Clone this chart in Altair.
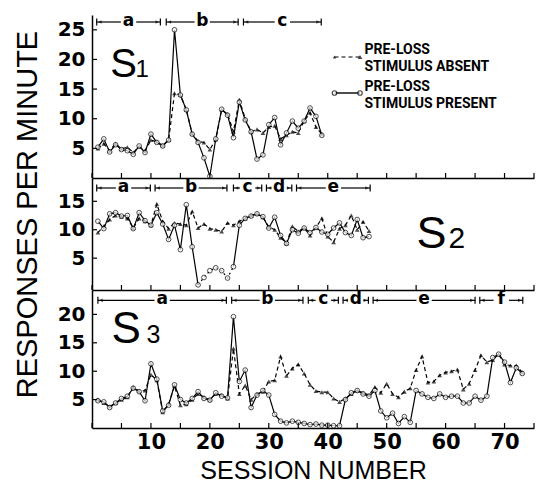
import altair as alt
import pandas as pd

# ---------------- data ----------------
X_TICKS = list(range(0, 76, 5))
X_LABELS = [10, 20, 30, 40, 50, 60, 70]

S1_Y_TICKS = [5, 10, 15, 20, 25]
S2_Y_TICKS = [5, 10, 15]
S3_Y_TICKS = [5, 10, 15, 20]

S1_ABSENT = [5.0, 5.8, 4.6, 5.8, 4.9, 5.2, 4.3, 5.3, 4.6, 6.4, 6.1, 5.5, 6.4, 14.3, 14.0,
             11.5, 7.5, 6.2, 6.0, 4.8, 6.5, 11.5, 10.8, 7.8, 13.2, 10.0, 7.8, 8.2, 7.6, 8.6,
             8.8, 6.6, 7.2, 7.8, 7.6, 9.6, 11.0, 8.6, 7.4]
S1_PRESENT = [5.2, 6.6, 4.4, 5.6, 4.8, 4.6, 4.0, 5.4, 4.3, 7.4, 6.0, 5.4, 6.4, 25.0, 14.0,
              11.5, 7.4, 6.0, 3.4, 0.3, 6.6, 11.6, 10.6, 6.8, 12.8, 9.8, 7.8, 3.2, 3.9, 9.0,
              10.2, 5.6, 7.6, 9.6, 8.4, 9.6, 11.8, 10.4, 7.2]

S2_ABSENT = [9.5, 10.6, 11.8, 12.5, 12.3, 12.0, 10.3, 12.0, 11.5, 10.8, 14.5, 11.5, 10.2, 11.2,
             11.0, 10.8, 13.2, 10.3, 11.0, 10.2, 10.0, 9.7, 11.2, 10.8, 11.5, 12.0, 12.5, 12.8,
             12.2, 10.5, 10.0, 8.6, 7.6, 10.6, 9.7, 10.3, 9.0, 10.4, 12.0, 8.8, 7.8, 10.2, 10.8,
             12.5, 10.0, 11.4, 9.8]
S2_PRESENT = [11.5, 10.2, 12.8, 13.0, 12.4, 12.5, 10.2, 13.0, 11.6, 10.8, 13.0, 11.0, 8.3, 10.8,
              6.5, 14.4, 7.0, 0.3, 1.6, 2.8, 3.3, 2.8, 1.5, 3.5, 10.8, 12.0, 12.4, 12.8, 12.3,
              10.3, 12.2, 9.0, 7.6, 10.0, 9.4, 10.3, 9.5, 10.4, 9.6, 9.2, 10.3, 11.2, 9.5, 9.0,
              11.8, 8.6, 8.8]
S2_PRESENT_DASHED = (18, 24)   # sessions joined by a dotted line in the original

S3_ABSENT = [5.0, 4.4, 3.8, 4.4, 5.0, 5.4, 7.2, 6.5, 6.6, 9.4, 8.4, 2.8, 4.2, 7.4, 4.0, 4.2,
             5.0, 6.0, 5.4, 5.0, 6.0, 5.8, 5.2, 14.0, 6.0, 7.5, 5.0, 6.0, 6.4, 8.2, 8.4, 12.6,
             9.2, 10.5, 11.2, 9.6, 7.6, 6.5, 6.3, 6.3, 5.2, 4.6, 5.2, 6.0, 6.6, 6.2, 5.8, 7.2,
             6.2, 7.8, 6.0, 5.4, 6.4, 7.0, 10.2, 12.6, 8.0, 8.2, 9.3, 9.8, 10.0, 10.3, 6.8, 7.8,
             10.2, 12.8, 11.6, 12.0, 13.0, 11.2, 11.0, 11.0, 9.8]
S3_PRESENT = [4.8, 4.6, 3.6, 4.4, 5.2, 5.6, 7.0, 6.4, 4.8, 11.3, 8.6, 3.0, 4.0, 7.6, 5.0, 4.4,
              5.2, 6.4, 5.2, 4.9, 6.2, 5.6, 5.3, 19.6, 8.2, 10.2, 3.6, 5.8, 6.6, 5.8, 2.4, 1.2,
              0.9, 1.2, 1.0, 0.8, 0.6, 0.7, 0.5, 0.5, 0.4, 0.4, 5.0, 6.2, 6.6, 6.0, 5.6, 6.6,
              3.0, 1.8, 2.6, 0.8, 2.0, 1.0, 6.6, 6.0, 5.4, 5.2, 6.0, 5.4, 5.6, 5.6, 4.4, 4.4,
              5.6, 4.9, 5.6, 12.4, 13.0, 11.6, 8.0, 10.6, 9.6]

S1_PHASES = ["a", "b", "c"]
S1_PHASE_START = [0.8, 12.6, 25.7]
S1_PHASE_END = [11.6, 24.8, 38.9]
S2_PHASES = ["a", "b", "c", "d", "e"]
S2_PHASE_START = [0.8, 10.7, 24.0, 29.6, 34.7]
S2_PHASE_END = [9.9, 22.9, 28.8, 33.9, 47.2]
S3_PHASES = ["a", "b", "c", "d", "e", "f"]
S3_PHASE_START = [1.0, 23.7, 36.7, 42.6, 47.7, 65.8]
S3_PHASE_END = [22.8, 35.8, 41.8, 46.9, 65.0, 73.1]

# ---------------- layout ----------------
W = 442
XS = alt.Scale(domain=[0, 75], nice=False, zero=False)
LABEL_FONT = "DejaVu Sans"


def series_df(vals):
    return pd.DataFrame({"x": list(range(1, len(vals) + 1)), "y": vals})


def txt(label, x, y, size, font="Liberation Sans", weight="normal", align="left", baseline="alphabetic"):
    return alt.Chart(pd.DataFrame({"t": [label]})).mark_text(
        font=font, fontSize=size, fontWeight=weight, align=align, baseline=baseline, color="black"
    ).encode(text="t:N", x=alt.value(x), y=alt.value(y))


def panel(absent, present, h, ydom, yticks, letters, starts, ends, by,
          s_sub, s_pos, s_sizes, bottom=False, legend=False, dashed=None):
    ys = alt.Scale(domain=ydom, nice=False, zero=False)
    if bottom:
        xaxis = alt.Axis(values=X_LABELS, ticks=False, grid=False, labelFont=LABEL_FONT,
                         labelFontSize=21, labelFontWeight="bold", labelPadding=3,
                         labelColor="black", title="SESSION NUMBER", titleFont="Liberation Sans",
                         titleFontSize=25, titleFontWeight="normal", titlePadding=6,
                         titleColor="black", domainColor="black", domainWidth=1.5)
    else:
        xaxis = alt.Axis(values=X_TICKS, ticks=False, labels=False, grid=False, title=None,
                         domainColor="black", domainWidth=1.5)
    yaxis = alt.Axis(values=yticks, ticks=False, grid=False, labelFont=LABEL_FONT,
                     labelFontSize=20, labelFontWeight="bold", labelPadding=7,
                     labelColor="black", title=None, domainColor="black", domainWidth=1.5)

    def X(f="x"):
        return alt.X(f + ":Q", scale=XS, axis=xaxis)

    def Y():
        return alt.Y("y:Q", scale=ys, axis=yaxis)

    dfa = series_df(absent)
    dfp = series_df(present)
    if dashed:
        d0, d1 = dashed
        solid = dfp[(dfp.x <= d0) | (dfp.x >= d1)].copy()
        solid["g"] = (solid.x > d0).astype(int)
        dot = dfp[(dfp.x >= d0) & (dfp.x <= d1)]
    else:
        solid = dfp.copy()
        solid["g"] = 0
        dot = None
    layers = []
    layers.append(alt.Chart(dfa).mark_line(color="black", strokeWidth=1.2, strokeDash=[4, 3])
                  .encode(x=X(), y=Y()))
    layers.append(alt.Chart(solid).mark_line(color="black", strokeWidth=1.2)
                  .encode(x=X(), y=Y(), detail="g:N"))
    if dot is not None:
        layers.append(alt.Chart(dot).mark_line(color="black", strokeWidth=1.2, strokeDash=[2, 3])
                      .encode(x=X(), y=Y()))
    layers.append(alt.Chart(dfa).mark_point(shape="triangle-up", filled=True, color="black",
                                            size=22).encode(x=X(), y=Y()))
    layers.append(alt.Chart(dfp).mark_point(shape="circle", filled=True, fill="white",
                                            stroke="black", strokeWidth=1, size=22)
                  .encode(x=X(), y=Y()))

    # inward ticks
    layers.append(alt.Chart(pd.DataFrame({"x": X_TICKS})).mark_rule(color="black", strokeWidth=1.2)
                  .encode(x=X(), y=alt.value(h), y2=alt.value(h - 5)))
    layers.append(alt.Chart(pd.DataFrame({"y": yticks})).mark_rule(color="black", strokeWidth=1.2)
                  .encode(y=Y(), x=alt.value(0), x2=alt.value(5)))

    # phase brackets
    gap = 1.3
    segs = []
    for s, e in zip(starts, ends):
        m = (s + e) / 2
        segs.append({"x": s, "x2": m - gap})
        segs.append({"x": m + gap, "x2": e})
    layers.append(alt.Chart(pd.DataFrame(segs)).mark_rule(color="black", strokeWidth=1.2)
                  .encode(x=X(), x2="x2:Q", y=alt.value(by)))
    layers.append(alt.Chart(pd.DataFrame({"x": starts + ends})).mark_rule(color="black", strokeWidth=1.2)
                  .encode(x=X(), y=alt.value(by - 3.5), y2=alt.value(by + 3.5)))
    layers.append(alt.Chart(pd.DataFrame({"x": [s + 0.55 for s in starts]}))
                  .mark_point(shape="triangle-left", filled=True, color="black", size=14)
                  .encode(x=X(), y=alt.value(by)))
    layers.append(alt.Chart(pd.DataFrame({"x": [e - 0.55 for e in ends]}))
                  .mark_point(shape="triangle-right", filled=True, color="black", size=14)
                  .encode(x=X(), y=alt.value(by)))
    layers.append(alt.Chart(pd.DataFrame({"x": [(s + e) / 2 for s, e in zip(starts, ends)],
                                          "t": letters}))
                  .mark_text(font=LABEL_FONT, fontSize=17, fontWeight="bold", color="black",
                             baseline="middle", dy=-1)
                  .encode(x=X(), y=alt.value(by), text="t:N"))

    # subject label
    sx, sy, subx = s_pos
    layers.append(txt("S", sx, sy, s_sizes[0]))
    layers.append(txt(s_sub, subx, sy, s_sizes[1]))

    if legend:
        lx0, lx1, tx = 242.5, 268, 272.5
        layers.append(alt.Chart(pd.DataFrame({"t": [0]})).mark_rule(color="black", strokeWidth=1.2,
                                                                     strokeDash=[4, 3])
                      .encode(x=alt.value(lx0), x2=alt.value(lx1), y=alt.value(42)))
        layers.append(alt.Chart(pd.DataFrame({"t": [0]})).mark_point(shape="triangle-up", filled=True,
                                                                      color="black", size=12)
                      .encode(x=alt.value(lx0), y=alt.value(42)))
        layers.append(alt.Chart(pd.DataFrame({"t": [0]})).mark_point(shape="triangle-up", filled=True,
                                                                      color="black", size=24)
                      .encode(x=alt.value(lx1), y=alt.value(42)))
        layers.append(alt.Chart(pd.DataFrame({"t": [0]})).mark_rule(color="black", strokeWidth=1.4)
                      .encode(x=alt.value(lx0), x2=alt.value(lx1), y=alt.value(78)))
        for px in (lx0, lx1):
            layers.append(alt.Chart(pd.DataFrame({"t": [0]})).mark_point(
                shape="circle", filled=True, fill="white", stroke="black", strokeWidth=1.2, size=20)
                .encode(x=alt.value(px), y=alt.value(78)))
        for lab, yy in (("PRE-LOSS", 35), ("STIMULUS ABSENT", 51.8),
                        ("PRE-LOSS", 71.8), ("STIMULUS PRESENT", 88.5)):
            layers.append(txt(lab, tx, yy, 14, font="Roboto", weight="bold", baseline="middle"))

    return alt.layer(*layers).properties(width=W, height=h)


p1 = panel(S1_ABSENT, S1_PRESENT, 163, [0, 27.5], S1_Y_TICKS,
           S1_PHASES, S1_PHASE_START, S1_PHASE_END, 7,
           "1", (18.2, 62, 43.5), (40, 24), legend=True)
p2 = panel(S2_ABSENT, S2_PRESENT, 112, [-0.6, 19.1], S2_Y_TICKS,
           S2_PHASES, S2_PHASE_START, S2_PHASE_END, 10,
           "2", (324.5, 70, 356.5), (45, 30), dashed=S2_PRESENT_DASHED)
p3 = panel(S3_ABSENT, S3_PRESENT, 138, [0, 24.3], S3_Y_TICKS,
           S3_PHASES, S3_PHASE_START, S3_PHASE_END, 10.3,
           "3", (19.5, 53, 54.5), (44, 25), bottom=True)

chart = alt.vconcat(p1, p2, p3, spacing=0, bounds="flush").properties(
    title=alt.TitleParams("RESPONSES PER MINUTE", orient="left", anchor="middle",
                          font="Liberation Sans", fontSize=29, fontWeight="normal",
                          color="black", offset=14, dx=33),
    padding={"left": 6, "top": 4, "right": 2, "bottom": 2},
).configure_view(stroke=None)

chart.save("out.html", embed_options={"renderer": "svg", "actions": False})
